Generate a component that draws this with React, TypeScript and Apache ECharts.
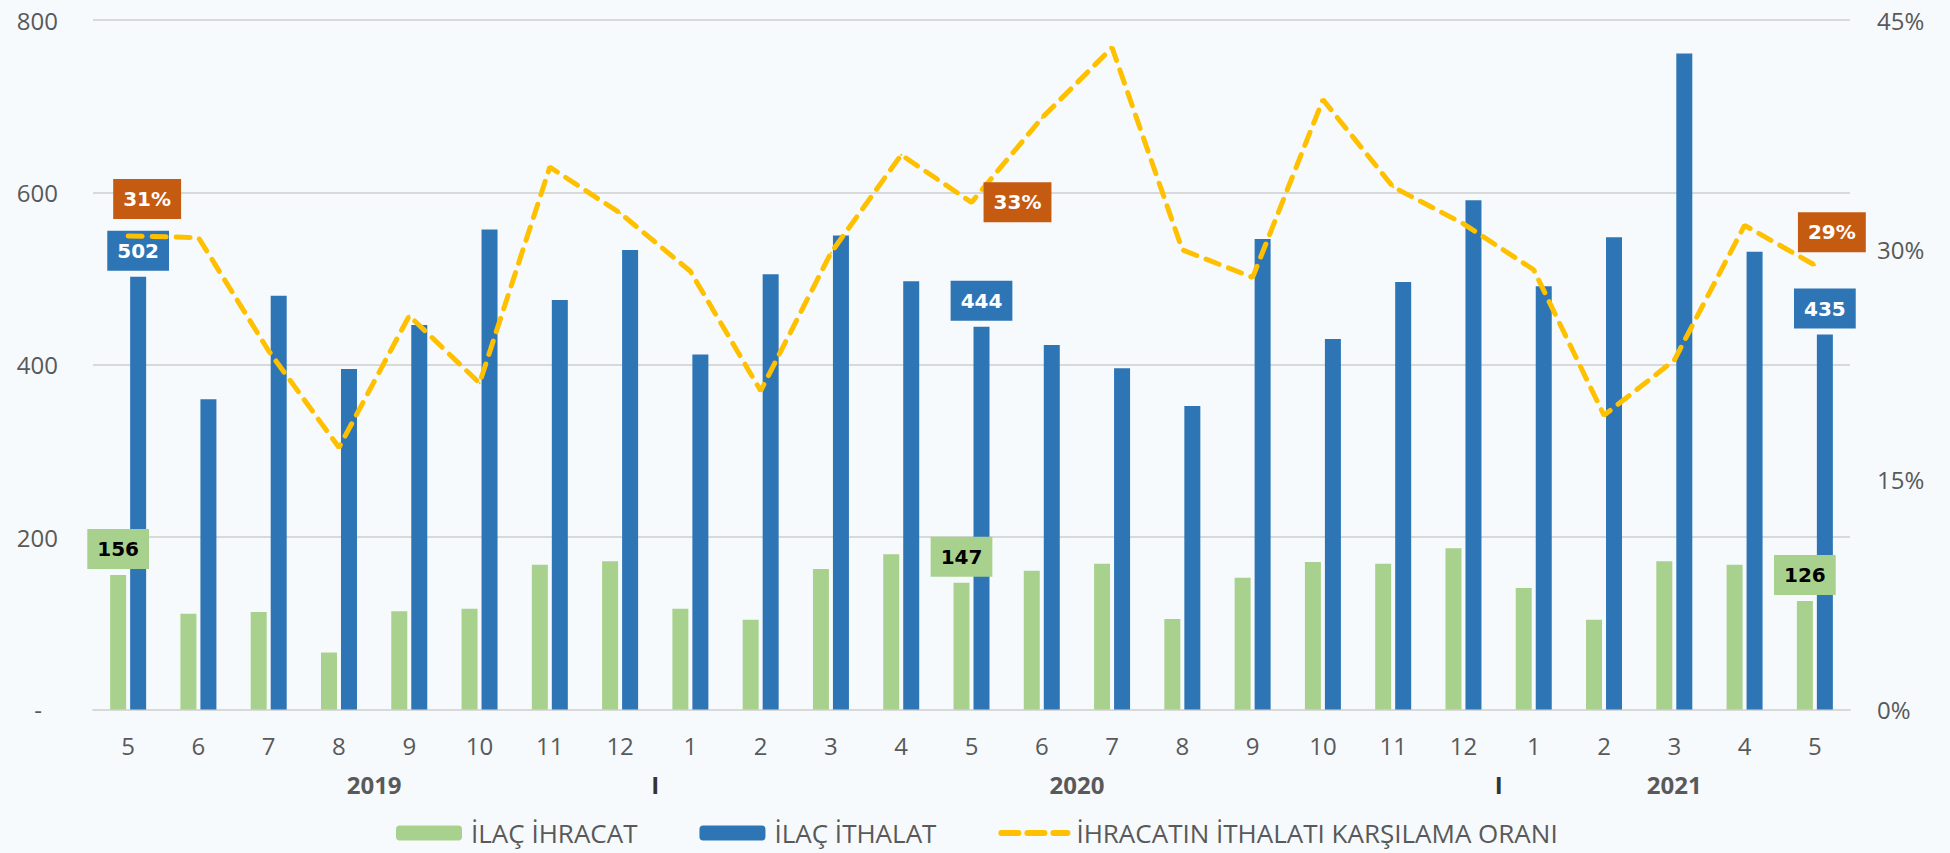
import React, { useEffect, useRef } from "react";
import * as echarts from "echarts";

const months = ["5", "6", "7", "8", "9", "10", "11", "12", "1", "2", "3", "4", "5", "6", "7", "8", "9", "10", "11", "12", "1", "2", "3", "4", "5"];
const years = ["2019", "2020", "2021"];
const yearSizes = [8, 12, 5];
const exportsData = [156, 111, 113, 66, 114, 117, 168, 172, 117, 104, 163, 180, 147, 161, 169, 105, 153, 171, 169, 187, 141, 104, 172, 168, 126];
const importsData = [502, 360, 480, 395, 446, 557, 475, 533, 412, 505, 550, 497, 444, 423, 396, 352, 546, 430, 496, 591, 491, 548, 761, 531, 435];
const ratioData = [30.9, 30.8, 23.4, 17.1, 25.7, 21.3, 35.4, 32.4, 28.6, 20.8, 29.8, 36.2, 33.1, 38.6, 43.2, 30.0, 28.2, 39.8, 34.1, 31.7, 28.7, 19.2, 22.8, 31.6, 29.0];
const leftTicks = [0, 200, 400, 600, 800];
const rightTicks = [0, 15, 30, 45];
const labeledIdx = [0, 12, 24];
const ratioLabelOffsets: Record<number, number[]> = { 0: [19, -37], 12: [46, 0], 24: [17, -33] };

const names = ["İLAÇ İHRACAT", "İLAÇ İTHALAT", "İHRACATIN İTHALATI KARŞILAMA ORANI"];
const GREEN = "#A9D18E";
const BLUE = "#2E75B6";
const YELLOW = "#FFC000";
const ORANGE = "#C55A11";
const AXIS_TEXT = "#595959";
const FONT = "Open Sans";

export default function App() {
  const ref = useRef<HTMLDivElement>(null);
  useEffect(() => {
    document.body.style.margin = "0";
    if (!ref.current) return;
    const chart = echarts.init(ref.current, null, { renderer: "svg" });

    const boxLabel = (bg: string, color: string) => ({
      show: true,
      position: "top",
      distance: 6,
      backgroundColor: bg,
      color,
      fontFamily: "DejaVu Sans",
      fontWeight: "bold",
      fontSize: 20,
      padding: [10, 10, 10, 10],
    });

    const expSeries = exportsData.map((v, i) =>
      labeledIdx.includes(i) ? { value: v, label: boxLabel(GREEN, "#000") } : v
    );
    const impSeries = importsData.map((v, i) =>
      labeledIdx.includes(i) ? { value: v, label: boxLabel(BLUE, "#fff") } : v
    );
    const ratioSeries = ratioData.map((v, i) =>
      labeledIdx.includes(i)
        ? {
            value: v,
            label: {
              show: true,
              position: "inside",
              offset: ratioLabelOffsets[i],
              backgroundColor: ORANGE,
              color: "#fff",
              fontFamily: "DejaVu Sans",
              fontWeight: "bold",
              fontSize: 20,
              padding: [10, 10, 10, 10],
              formatter: (p: any) => Math.round(p.value) + "%",
            },
          }
        : v
    );

    const yearCenters: Record<string, string> = {};
    let start = 0;
    yearSizes.forEach((s, k) => {
      yearCenters[String(start + s / 2)] = "{y|" + years[k] + "}";
      if (k > 0) yearCenters[String(start)] = "{s|I}";
      start += s;
    });

    chart.setOption({
      animation: false,
      backgroundColor: "#F6FAFD",
      textStyle: { fontFamily: FONT },
      grid: { left: 93, right: 100, top: 20, bottom: 143.5, containLabel: false },
      legend: {
        top: 815,
        left: 391,
        itemWidth: 66,
        itemHeight: 15,
        itemGap: 62,
        textStyle: { fontFamily: FONT, fontSize: 26, color: AXIS_TEXT, padding: [0, 0, 0, 4] },
        data: [
          { name: names[0] },
          { name: names[1] },
          {
            name: names[2],
            itemStyle: { opacity: 0 },
            lineStyle: { color: YELLOW, width: 6, type: [17, 9], cap: "round" },
          },
        ],
      },
      xAxis: [
        {
          type: "category",
          data: months,
          axisLine: { lineStyle: { color: "#D9D9D9", width: 2 } },
          axisTick: { show: false },
          axisLabel: { color: AXIS_TEXT, fontSize: 24, fontFamily: FONT, margin: 24 },
        },
        {
          type: "value",
          min: 0,
          max: months.length,
          interval: 0.5,
          position: "bottom",
          axisLine: { show: false },
          axisTick: { show: false },
          splitLine: { show: false },
          axisLabel: {
            margin: 63,
            showMinLabel: true,
            showMaxLabel: true,
            formatter: (v: number) => yearCenters[String(v)] || "",
            rich: {
              y: { color: AXIS_TEXT, fontSize: 24, fontWeight: "bold", fontFamily: FONT },
              s: { color: "#333333", fontSize: 24, fontWeight: "bold", fontFamily: FONT },
            },
          },
        },
      ],
      yAxis: [
        {
          type: "value",
          min: leftTicks[0],
          max: leftTicks[leftTicks.length - 1],
          interval: 200,
          axisLine: { show: false },
          axisTick: { show: false },
          splitLine: { lineStyle: { color: "#D9D9D9", width: 2 } },
          axisLabel: {
            color: AXIS_TEXT,
            fontSize: 24,
            fontFamily: FONT,
            margin: 35,
            formatter: (v: number) => (v === 0 ? "{d|-}" : String(v)),
            rich: { d: { color: AXIS_TEXT, fontSize: 24, fontFamily: FONT, padding: [0, 16, 0, 0] } },
          },
        },
        {
          type: "value",
          min: rightTicks[0],
          max: rightTicks[rightTicks.length - 1],
          interval: 15,
          axisLine: { show: false },
          axisTick: { show: false },
          splitLine: { show: false },
          axisLabel: {
            color: AXIS_TEXT,
            fontSize: 24,
            fontFamily: FONT,
            margin: 27,
            formatter: (v: number) => v + "%",
          },
        },
      ],
      series: [
        {
          name: names[0],
          type: "bar",
          data: expSeries,
          barWidth: 16,
          barGap: "25%",
          itemStyle: { color: GREEN },
        },
        {
          name: names[1],
          type: "bar",
          data: impSeries,
          barWidth: 16,
          itemStyle: { color: BLUE },
        },
        {
          name: names[2],
          type: "line",
          yAxisIndex: 1,
          data: ratioSeries,
          symbol: "circle",
          symbolSize: 2,
          showSymbol: true,
          itemStyle: { color: YELLOW },
          lineStyle: { color: YELLOW, width: 5, type: [14, 10], cap: "round" },
          z: 5,
        },
      ],
    });
    return () => chart.dispose();
  }, []);
  return <div ref={ref} style={{ width: 1950, height: 853 }} />;
}
